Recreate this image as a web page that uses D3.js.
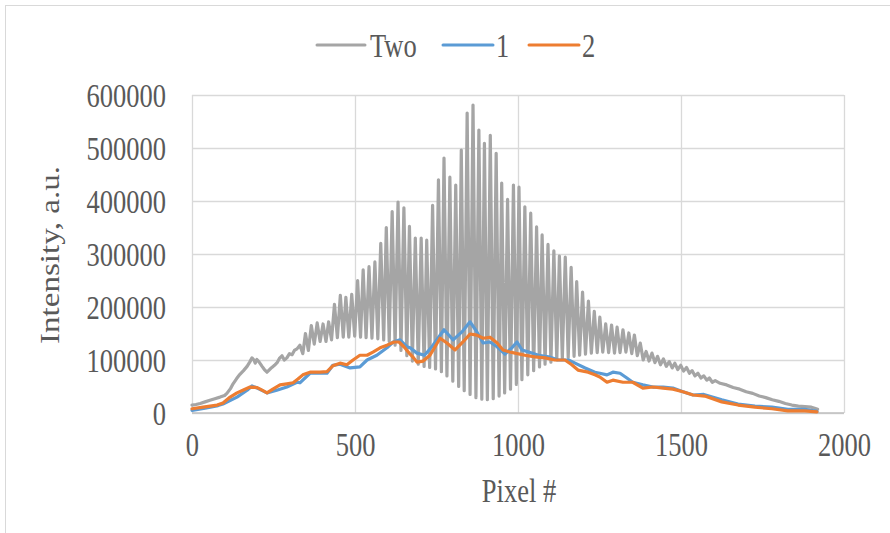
<!DOCTYPE html>
<html>
<head>
<meta charset="utf-8">
<script src="https://cdn.jsdelivr.net/npm/d3@7"></script>
<style>
  html, body { margin: 0; padding: 0; background: #ffffff; }
  svg { display: block; }
  text { font-family: "Liberation Serif", "Times New Roman", serif; fill: #595959; }
</style>
</head>
<body>
<svg id="chart" width="890" height="533"></svg>
<script>
// Axis ticks
const xTicks = [0, 500, 1000, 1500, 2000];
const yTicks = [0, 100000, 200000, 300000, 400000, 500000, 600000];

// Series names
const seriesNames = ["Two", "1", "2"];

// "Two": [pixel, intensity] – interference fringes (peaks and troughs)
const twoSeries = [
  [0,15000],[12,16000],[25,18000],[40,21000],[55,24000],[70,27000],[86,30000],[100,33000],
  [107,37000],[118,46000],[126,55000],[137,65000],[147,73000],[158,80000],[169,88000],[177,96000],
  [184,104000],[190,100000],[194,94000],[199,101000],[205,97000],[215,88000],[222,82000],[230,77000],
  [238,82000],[245,86000],[253,90000],[261,95000],[268,103000],[276,108000],[283,100000],[291,104000],
  [299,112000],[307,110000],[314,118000],[322,121000],[331,128000],[340,112000],
  [348,150000],[357,118000],[366,165000],[375,130000],[384,170000],[393,135000],[402,168000],[411,135000],
  [419,172000],[428,138000],[437,205000],[446,142000],[455,222000],[464,143000],[472,218000],[481,143000],
  [490,224000],[499,145000],[508,250000],[517,143000],[525,270000],[534,142000],[543,276000],[552,141000],
  [561,285000],[570,140000],[579,320000],[588,138000],[596,350000],[605,135000],[614,380000],[623,128000],
  [632,398000],[641,118000],[650,387000],[659,108000],[667,352000],[676,98000],[685,330000],[694,92000],
  [703,330000],[712,88000],[720,326000],[729,86000],[738,392000],[747,83000],[756,440000],[765,78000],
  [773,481000],[782,70000],[791,445000],[800,60000],[809,430000],[818,50000],[826,496000],[835,42000],
  [844,566000],[853,35000],[862,581000],[871,29000],[880,534000],[889,26000],[897,509000],[906,25000],
  [915,524000],[924,27000],[933,490000],[942,32000],[950,434000],[959,38000],[968,403000],[977,45000],
  [986,430000],[995,54000],[1003,426000],[1012,63000],[1021,389000],[1030,72000],[1039,377000],[1048,80000],
  [1057,351000],[1066,87000],[1074,336000],[1083,92000],[1092,318000],[1101,96000],[1110,306000],[1119,100000],
  [1127,296000],[1136,103000],[1145,294000],[1154,105000],[1163,275000],[1172,107000],[1180,248000],[1189,109000],
  [1198,228000],[1207,111000],[1216,211000],[1225,113000],[1234,192000],[1243,114000],[1251,181000],[1260,115000],
  [1269,168000],[1278,114000],[1287,166000],[1296,113000],[1304,162000],[1313,114000],[1322,157000],[1331,115000],
  [1340,151000],[1349,112000],[1357,147000],[1366,108000],[1375,132000],[1384,100000],[1393,116000],[1402,98000],
  [1411,113000],[1420,95000],[1428,107000],[1437,91000],[1446,102000],[1455,88000],[1464,97000],[1473,85000],
  [1481,94000],[1490,82000],[1499,90000],[1508,79000],[1517,86000],[1526,75000],[1534,80000],[1543,70000],
  [1552,75000],[1561,66000],[1570,70000],[1579,62000],[1587,66000],[1596,58000],
  [1605,61000],[1620,56000],[1640,53000],[1660,48000],[1680,45000],[1700,40000],[1720,37000],[1740,32000],
  [1760,29000],[1780,25000],[1800,22000],[1820,18000],[1840,15000],[1860,13000],[1880,12000],[1900,11000],
  [1910,9000],[1919,7000]
];

// "1": [pixel, intensity]
const oneSeries = [
  [0,5000],[40,9000],[80,14000],[95,17000],[138,30000],[169,43000],[184,51000],[200,47000],
  [230,38000],[260,43000],[291,49000],[322,58000],[331,57000],[362,75000],[414,75000],[432,90000],
  [454,92000],[485,85000],[515,87000],[537,100000],[567,109000],[598,123000],[617,134000],[638,138000],
  [659,125000],[669,123000],[690,113000],[713,109000],[736,125000],[773,157000],[801,138000],[828,153000],
  [853,172000],[874,153000],[893,132000],[914,134000],[936,125000],[960,111000],[981,123000],[997,134000],
  [1012,119000],[1033,115000],[1063,109000],[1094,106000],[1124,100000],[1155,100000],[1175,94000],[1206,85000],
  [1236,77000],[1251,75000],[1273,72000],[1291,77000],[1313,75000],[1334,66000],[1352,58000],[1383,53000],
  [1414,49000],[1445,49000],[1475,47000],[1506,40000],[1537,34000],[1570,35000],[1625,25000],[1675,17000],
  [1727,13000],[1779,11000],[1828,7000],[1880,7000],[1917,3000]
];

// "2": [pixel, intensity]
const twoOneSeries = [
  [0,8000],[34,11000],[77,15000],[95,19000],[117,30000],[138,38000],[156,43000],[178,49000],
  [200,48000],[215,43000],[230,38000],[248,45000],[270,53000],[291,55000],[310,57000],[325,64000],
  [340,72000],[362,77000],[393,77000],[414,78000],[432,89000],[454,94000],[475,91000],[494,100000],
  [515,109000],[537,109000],[555,115000],[577,123000],[598,128000],[620,134000],[635,134000],[650,125000],
  [666,113000],[680,104000],[690,96000],[709,98000],[730,109000],[761,141000],[782,132000],[807,119000],
  [831,134000],[853,149000],[874,147000],[893,141000],[914,143000],[936,132000],[954,119000],[975,115000],
  [991,113000],[1021,109000],[1052,106000],[1083,104000],[1113,100000],[1144,100000],[1165,91000],[1184,81000],
  [1215,77000],[1236,72000],[1251,68000],[1273,58000],[1291,62000],[1322,58000],[1352,58000],[1383,47000],
  [1414,49000],[1445,47000],[1475,45000],[1506,40000],[1537,34000],[1573,32000],[1625,21000],[1675,15000],
  [1727,11000],[1779,8000],[1828,4000],[1880,4000],[1917,2000]
];

const colors = ["#a5a5a5", "#5b9bd5", "#ed7d31"];
const seriesData = [twoSeries, oneSeries, twoOneSeries];

const svg = d3.select("#chart");
const margin = { left: 192, top: 95, right: 890 - 844, bottom: 533 - 413 };
const width = 844 - margin.left;
const height = 413 - margin.top;
const fontSize = 26.5;
const stretch = 1.25; // glyphs are drawn taller than wide

// outer chart frame
svg.append("rect")
  .attr("x", 5.5).attr("y", 5.5)
  .attr("width", 920).attr("height", 560)
  .attr("fill", "none").attr("stroke", "#d9d9d9").attr("stroke-width", 1);

const x = d3.scaleLinear().domain([0, 2000]).range([0, width]);
const y = d3.scaleLinear().domain([0, 600000]).range([height, 0]);

const g = svg.append("g").attr("transform", `translate(${margin.left},${margin.top})`);

// horizontal gridlines + y tick labels
const yAxis = g.append("g")
  .call(d3.axisLeft(y).tickValues(yTicks).tickSize(-width).tickFormat(d3.format("d")).tickPadding(0));
yAxis.select(".domain").remove();
yAxis.selectAll("line").attr("stroke", "#d9d9d9").attr("stroke-width", 1.3);
yAxis.selectAll("text")
  .attr("x", null).attr("dy", null)
  .attr("text-anchor", "end")
  .attr("dominant-baseline", "central")
  .style("font-size", fontSize + "px")
  .attr("transform", `translate(-26,0) scale(1,${stretch})`);

// vertical gridlines + x tick labels
const xAxis = g.append("g")
  .attr("transform", `translate(0,${height})`)
  .call(d3.axisBottom(x).tickValues(xTicks).tickSize(-height).tickFormat(d3.format("d")).tickPadding(0));
xAxis.select(".domain").remove();
xAxis.selectAll("line").attr("stroke", "#d9d9d9").attr("stroke-width", 1.3);
xAxis.selectAll("text")
  .attr("y", null).attr("dy", null)
  .attr("text-anchor", "middle")
  .attr("dominant-baseline", "central")
  .style("font-size", fontSize + "px")
  .attr("transform", `translate(0,31) scale(1,${stretch})`);

// bottom axis line
g.append("line")
  .attr("x1", 0).attr("x2", width).attr("y1", height).attr("y2", height)
  .attr("stroke", "#bfbfbf").attr("stroke-width", 1.3);

// series lines
const line = d3.line().x(d => x(d[0])).y(d => y(d[1]));
seriesData.forEach((data, i) => {
  g.append("path")
    .datum(data)
    .attr("fill", "none")
    .attr("stroke", colors[i])
    .attr("stroke-width", i === 0 ? 3.2 : 3.2)
    .attr("stroke-linejoin", "round")
    .attr("stroke-linecap", "round")
    .attr("d", line);
});

// axis titles
svg.append("text")
  .attr("text-anchor", "middle")
  .attr("dominant-baseline", "central")
  .style("font-size", fontSize + "px")
  .attr("transform", `translate(519,490) scale(1,${stretch})`)
  .text("Pixel #");

svg.append("text")
  .attr("text-anchor", "middle")
  .attr("dominant-baseline", "central")
  .style("font-size", fontSize + "px")
  .attr("transform", `translate(50,255) rotate(-90) scale(${stretch},1)`)
  .text("Intensity, a.u.");

// legend
const legendItems = [
  { name: seriesNames[0], color: colors[0], x0: 317, x1: 365, tx: 370 },
  { name: seriesNames[1], color: colors[1], x0: 443, x1: 493, tx: 496 },
  { name: seriesNames[2], color: colors[2], x0: 529, x1: 579, tx: 582 }
];
const legend = svg.append("g");
legendItems.forEach(it => {
  legend.append("line")
    .attr("x1", it.x0).attr("x2", it.x1).attr("y1", 45).attr("y2", 45)
    .attr("stroke", it.color).attr("stroke-width", 3).attr("stroke-linecap", "round");
  legend.append("text")
    .attr("dominant-baseline", "central")
    .style("font-size", fontSize + "px")
    .attr("transform", `translate(${it.tx},45) scale(1,${stretch})`)
    .text(it.name);
});
</script>
</body>
</html>
